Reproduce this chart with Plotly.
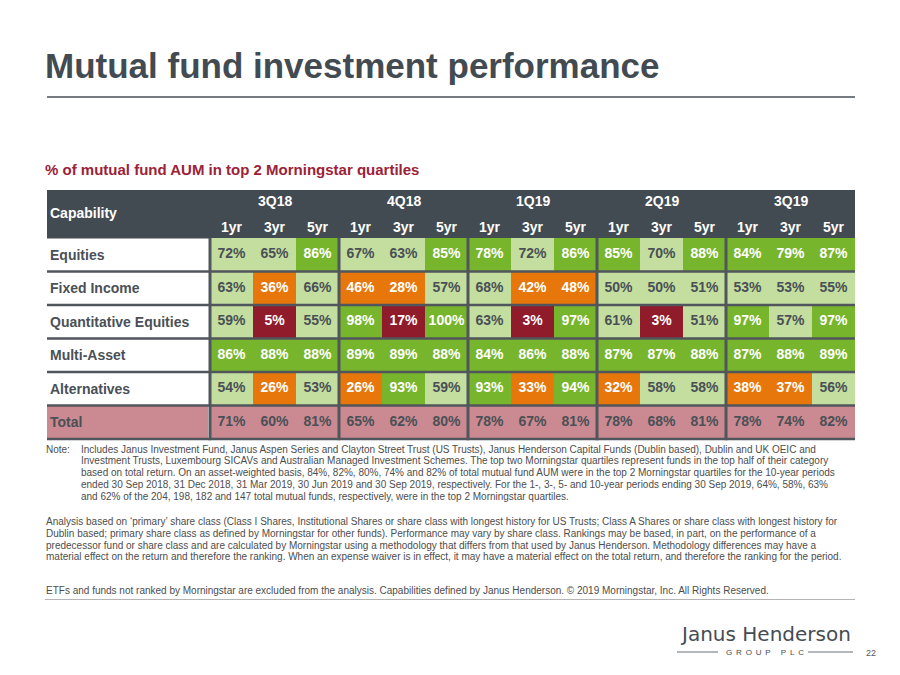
import plotly.graph_objects as go

# ---------------- data ----------------
quarters = ["3Q18", "4Q18", "1Q19", "2Q19", "3Q19"]
periods = ["1yr", "3yr", "5yr"]
capabilities = ["Equities", "Fixed Income", "Quantitative Equities", "Multi-Asset", "Alternatives"]
total_label = "Total"

equities = [72, 65, 86, 67, 63, 85, 78, 72, 86, 85, 70, 88, 84, 79, 87]
fixed_income = [63, 36, 66, 46, 28, 57, 68, 42, 48, 50, 50, 51, 53, 53, 55]
quant_equities = [59, 5, 55, 98, 17, 100, 63, 3, 97, 61, 3, 51, 97, 57, 97]
multi_asset = [86, 88, 88, 89, 89, 88, 84, 86, 88, 87, 87, 88, 87, 88, 89]
alternatives = [54, 26, 53, 26, 93, 59, 93, 33, 94, 32, 58, 58, 38, 37, 56]
total = [71, 60, 81, 65, 62, 80, 78, 67, 81, 78, 68, 81, 78, 74, 82]

rows = [equities, fixed_income, quant_equities, multi_asset, alternatives]

# ---------------- styles ----------------
FONT = "Liberation Sans, Arial, sans-serif"
C_HEAD = "#434b52"
C_LIGHT = "#c3de9f"
C_GREEN = "#77b52d"
C_ORANGE = "#e8770b"
C_RED = "#8f1b2b"
C_PINK = "#cb8a91"
C_SEP = "#50565b"
C_TXT = "#4a5056"
C_TITLE = "#434b52"
C_SUB = "#9b2237"

W, H = 900, 675
def px(x):
    return x / W
def py(y):
    return 1 - y / H

n_cols = len(quarters) * len(periods)
col_idx = list(range(n_cols))

fig = go.Figure()

# main colored cells (discrete colour scale: <25 red, <50 orange, <75 light, else green)
fig.add_trace(go.Heatmap(
    z=rows,
    x=col_idx,
    y=list(range(len(capabilities))),
    zmin=0, zmax=100,
    colorscale=[[0, C_RED], [0.245, C_RED], [0.245, C_ORANGE], [0.495, C_ORANGE],
                [0.495, C_LIGHT], [0.745, C_LIGHT], [0.745, C_GREEN], [1, C_GREEN]],
    showscale=False, hoverinfo="skip", xgap=0, ygap=0,
))
# total row
fig.add_trace(go.Heatmap(
    z=[total],
    x=col_idx,
    y=[len(capabilities)],
    zmin=0, zmax=100,
    colorscale=[[0, C_PINK], [1, C_PINK]],
    showscale=False, hoverinfo="skip",
))

# cell texts
tx, ty, tt, tc = [], [], [], []
for r, vals in enumerate(rows):
    for c, v in enumerate(vals):
        tx.append(c); ty.append(r); tt.append(f"{v}%")
        tc.append(C_TXT if 50 <= v < 75 else "white")
for c, v in enumerate(total):
    tx.append(c); ty.append(len(capabilities)); tt.append(f"{v}%")
    tc.append(C_TXT)
fig.add_trace(go.Scatter(
    x=tx, y=ty, text=tt, mode="text",
    textfont=dict(family=FONT, size=14, color=tc, weight="bold"),
    hoverinfo="skip", showlegend=False,
))

shapes = []
annotations = []

# header background
shapes.append(dict(type="rect", xref="paper", yref="paper",
                   x0=px(47), x1=px(855), y0=py(238.5), y1=py(190),
                   fillcolor=C_HEAD, line=dict(width=0), layer="below"))
# total row pink in capability column
n_rows = len(capabilities) + 1
shapes.append(dict(type="rect", xref="paper", yref="y",
                   x0=px(47), x1=px(208), y0=n_rows - 1.5, y1=n_rows - 0.5,
                   fillcolor=C_PINK, line=dict(width=0), layer="below"))
# horizontal row separators
for i in range(n_rows):
    shapes.append(dict(type="line", xref="paper", yref="y",
                       x0=px(47), x1=px(855), y0=i + 0.5, y1=i + 0.5,
                       line=dict(color=C_SEP, width=2.5), layer="above"))
# vertical separators: before data and between quarter groups
for g in range(len(quarters)):
    xs = g * len(periods) - 0.5
    shapes.append(dict(type="line", xref="x", yref="y",
                       x0=xs, x1=xs, y0=-0.5, y1=n_rows - 0.5 + 0.04,
                       line=dict(color=C_SEP, width=3), layer="above"))

hf = dict(family=FONT, size=14, color="white", weight="bold")
# header labels
for g, q in enumerate(quarters):
    annotations.append(dict(xref="x", yref="paper", x=g * len(periods) + 1, y=py(201),
                            xanchor="center", yanchor="middle",
                            text=q, showarrow=False, font=hf))
    for k, p in enumerate(periods):
        annotations.append(dict(xref="x", yref="paper", x=g * len(periods) + k, y=py(227),
                                xanchor="center", yanchor="middle",
                                text=p, showarrow=False, font=hf))
annotations.append(dict(xref="paper", yref="paper", x=px(48), y=py(213), xanchor="left",
                        yanchor="middle", text="Capability", showarrow=False, font=hf))
# row labels
for r, name in enumerate(capabilities + [total_label]):
    annotations.append(dict(xref="paper", yref="y", x=px(48), y=r, xanchor="left",
                            yanchor="middle", text=name, showarrow=False,
                            font=dict(family=FONT, size=14, color=C_TXT, weight="bold")))

# title
annotations.append(dict(xref="paper", yref="paper", x=px(43), y=py(65), xanchor="left",
                        yanchor="middle", text="Mutual fund investment performance",
                        showarrow=False,
                        font=dict(family=FONT, size=35, color=C_TITLE, weight="bold")))
shapes.append(dict(type="line", xref="paper", yref="paper", x0=px(47), x1=px(855),
                   y0=py(97), y1=py(97), line=dict(color="#767b80", width=2)))
# subtitle
annotations.append(dict(xref="paper", yref="paper", x=px(43), y=py(170), xanchor="left",
                        yanchor="middle",
                        text="% of mutual fund AUM in top 2 Morningstar quartiles",
                        showarrow=False,
                        font=dict(family=FONT, size=15, color=C_SUB, weight="bold")))

# notes
NOTE_C = "#4d4d4d"
note1 = [
    "Includes Janus Investment Fund, Janus Aspen Series and Clayton Street Trust (US Trusts), Janus Henderson Capital Funds (Dublin based), Dublin and UK OEIC and",
    "Investment Trusts, Luxembourg SICAVs and Australian Managed Investment Schemes. The top two Morningstar quartiles represent funds in the top half of their category",
    "based on total return. On an asset-weighted basis, 84%, 82%, 80%, 74% and 82% of total mutual fund AUM were in the top 2 Morningstar quartiles for the 10-year periods",
    "ended 30 Sep 2018, 31 Dec 2018, 31 Mar 2019, 30 Jun 2019 and 30 Sep 2019, respectively. For the 1-, 3-, 5- and 10-year periods ending 30 Sep 2019, 64%, 58%, 63%",
    "and 62% of the 204, 198, 182 and 147 total mutual funds, respectively, were in the top 2 Morningstar quartiles.",
]
note2 = [
    "Analysis based on \u2018primary\u2019 share class (Class I Shares, Institutional Shares or share class with longest history for US Trusts; Class A Shares or share class with longest history for",
    "Dublin based; primary share class as defined by Morningstar for other funds). Performance may vary by share class. Rankings may be based, in part, on the performance of a",
    "predecessor fund or share class and are calculated by Morningstar using a methodology that differs from that used by Janus Henderson. Methodology differences may have a",
    "material effect on the return and therefore the ranking. When an expense waiver is in effect, it may have a material effect on the total return, and therefore the ranking for the period.",
]
note3 = [
    "ETFs and funds not ranked by Morningstar are excluded from the analysis. Capabilities defined by Janus Henderson. \u00a9 2019 Morningstar, Inc. All Rights Reserved.",
]

nf = dict(family=FONT, size=10, color=NOTE_C)
LS = 11.75
annotations.append(dict(xref="paper", yref="paper", x=px(44), y=py(449), xanchor="left",
                        yanchor="middle", text="Note:", showarrow=False, font=nf))
for para, x0, y0 in ((note1, 79, 449), (note2, 44, 521.7), (note3, 44, 590.7)):
    for i, line in enumerate(para):
        annotations.append(dict(xref="paper", yref="paper", x=px(x0), y=py(y0 + i * LS),
                                xanchor="left", yanchor="middle", text=line,
                                showarrow=False, font=nf))
shapes.append(dict(type="line", xref="paper", yref="paper", x0=px(45), x1=px(855),
                   y0=py(599.5), y1=py(599.5), line=dict(color="#b5b5b5", width=1)))

# logo and page number
LOGO_C = "#454c53"
annotations.append(dict(xref="paper", yref="paper", x=px(765), y=py(634), xanchor="center",
                        yanchor="middle", text="Janus Henderson", showarrow=False,
                        font=dict(family="DejaVu Sans, sans-serif", size=20, color=LOGO_C)))
annotations.append(dict(xref="paper", yref="paper", x=px(764.5), y=py(652.5), xanchor="center",
                        yanchor="middle", text="G\u2009 R\u2009 O\u2009 U\u2009 P\u2003 P\u2009 L\u2009 C",
                        showarrow=False,
                        font=dict(family="Liberation Sans, sans-serif", size=8, color=LOGO_C)))
shapes.append(dict(type="line", xref="paper", yref="paper", x0=px(677), x1=px(718),
                   y0=py(652), y1=py(652), line=dict(color=LOGO_C, width=0.8)))
shapes.append(dict(type="line", xref="paper", yref="paper", x0=px(808), x1=px(853),
                   y0=py(652), y1=py(652), line=dict(color=LOGO_C, width=0.8)))
annotations.append(dict(xref="paper", yref="paper", x=px(871), y=py(653), xanchor="center",
                        yanchor="middle", text="22", showarrow=False,
                        font=dict(family=FONT, size=9, color="#595959")))

# axes mapping: x=-0.5 at 210px, 43px per column; y rows 33.5px each from 238px
x_left = -0.5 - 3 / 43
y_bottom = 5.58
fig.update_layout(
    width=W, height=H, autosize=False,
    margin=dict(l=0, r=0, t=0, b=0),
    paper_bgcolor="white", plot_bgcolor="white",
    showlegend=False,
    xaxis=dict(domain=[px(207), px(855)], range=[x_left, n_cols - 0.5],
               showgrid=False, zeroline=False, showticklabels=False, ticks="",
               fixedrange=True),
    yaxis=dict(domain=[py(238 + (y_bottom + 0.5) * 33.5), py(238)], range=[y_bottom, -0.5],
               showgrid=False, zeroline=False, showticklabels=False, ticks="",
               fixedrange=True),
    shapes=shapes,
    annotations=annotations,
)

fig.write_html("out.html", config={"displayModeBar": False},
               post_script="document.body.style.margin='0';")
